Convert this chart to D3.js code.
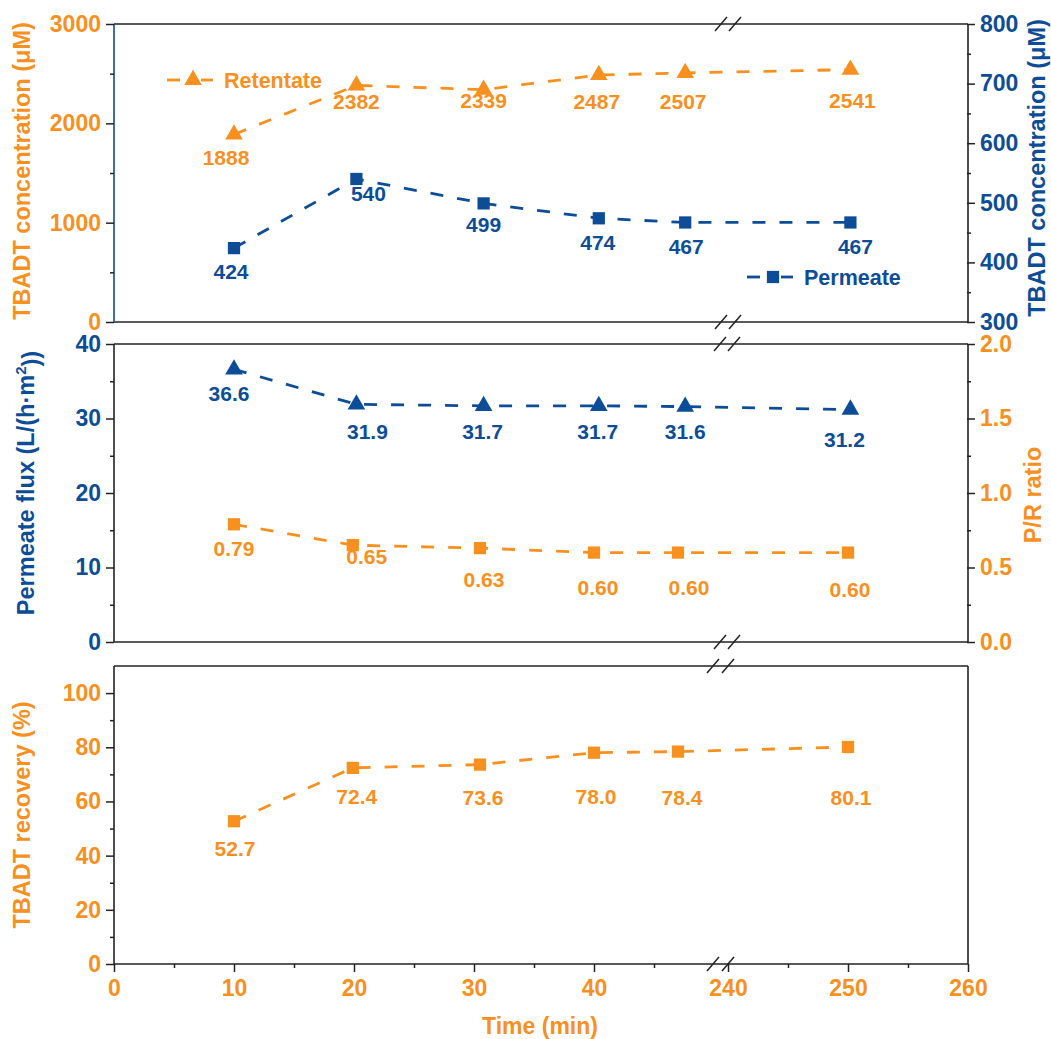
<!DOCTYPE html>
<html><head><meta charset="utf-8">
<script src="https://cdn.jsdelivr.net/npm/d3@7"></script>
<style>
body{margin:0;background:#fff}
svg{display:block}
text{font-family:"Liberation Sans",Arial,Helvetica,sans-serif;font-weight:bold}
</style>
</head><body>
<svg id="c" width="1051" height="1039"></svg>
<script>
// ---------------- data ----------------
const timeA = [10, 20.2, 30.8, 40.4, 47.6, 250.2];   // top & flux markers
const timeB = [10, 19.9, 30.5, 40, 47, 250];         // P/R & recovery markers
const retentate = [1888, 2382, 2339, 2487, 2507, 2541];
const permeate  = [424, 540, 499, 474, 467, 467];
const flux      = [36.6, 31.9, 31.7, 31.7, 31.6, 31.2];
const prRatio   = [0.79, 0.65, 0.63, 0.60, 0.60, 0.60];
const recovery  = [52.7, 72.4, 73.6, 78.0, 78.4, 80.1];
const xTicks = [0, 10, 20, 30, 40, 240, 250, 260];
const xMinor = [5, 15, 25, 35, 45, 245, 255];
const retFmt = d3.format("d"), perFmt = d3.format("d"), fluxFmt = d3.format(".1f"), prFmt = d3.format(".2f"), recFmt = d3.format(".1f");

// label nudges (px, relative to marker)
const retNudge  = [[-8,23],[0,16],[0,11],[-2,26],[-2,28],[2,31]];
const perNudge  = [[-3,23],[12,14],[0,21],[-1,24],[1,24],[5,24]];
const fluxNudge = [[-5,24],[11,27],[-1,26],[-1,26],[0,25],[-6,30]];
const prNudge   = [[0,24],[14,11],[4,31],[4,35],[11,35],[2,37]];
const recNudge  = [[1,27],[4,29],[3,33],[2,44],[4,46],[3,50]];

const ORANGE = "#F7901E", BLUE = "#0D4D97", BLACK = "#222";
const svg = d3.select("#c");

const X0 = 114, X1 = 968;
const x = d3.scaleLinear().domain([0, 50, 239, 260]).range([114, 714, 716, 968]);

const panels = [
  {top: 24, bot: 322},
  {top: 344, bot: 642},
  {top: 666, bot: 964}
];

const TRI = 135, SQ = 150;
function sym(type, size){ return d3.symbol().type(type).size(size)(); }

function yAxis(g, scale, side, major, minor, fmt, color, xpos){
  const ax = side === "left" ? d3.axisLeft(scale) : d3.axisRight(scale);
  const gm = g.append("g").attr("transform", `translate(${xpos},0)`)
    .call(ax.tickValues(major).tickSize(8).tickPadding(5).tickFormat(fmt));
  gm.select(".domain").remove();
  gm.selectAll("line").attr("stroke", BLACK).attr("stroke-width", 1.5);
  gm.selectAll("text").attr("fill", color).style("font-size", "23px").attr("font-family", null);
  const ax2 = side === "left" ? d3.axisLeft(scale) : d3.axisRight(scale);
  const gn = g.append("g").attr("transform", `translate(${xpos},0)`)
    .call(ax2.tickValues(minor).tickSize(4).tickFormat(""));
  gn.select(".domain").remove();
  gn.selectAll("line").attr("stroke", BLACK).attr("stroke-width", 1.5);
}

function frame(p, leftColor, breakXs){
  const g = svg.append("g");
  g.append("line").attr("x1", X0).attr("x2", X1).attr("y1", p.top).attr("y2", p.top).attr("stroke", BLACK).attr("stroke-width", 1.6);
  g.append("line").attr("x1", X0).attr("x2", X1).attr("y1", p.bot).attr("y2", p.bot).attr("stroke", BLACK).attr("stroke-width", 1.6);
  g.append("line").attr("x1", X0).attr("x2", X0).attr("y1", p.top).attr("y2", p.bot).attr("stroke", leftColor).attr("stroke-width", 1.6);
  g.append("line").attr("x1", X1).attr("x2", X1).attr("y1", p.top).attr("y2", p.bot).attr("stroke", BLACK).attr("stroke-width", 1.6);
  [p.top, p.bot].forEach(yy => {
    breakXs.forEach(cx => {
      g.append("line").attr("x1", cx - 6).attr("y1", yy + 7).attr("x2", cx + 6).attr("y2", yy - 7)
        .attr("stroke", BLACK).attr("stroke-width", 1.5);
    });
  });
}

function series(times, vals, y, color, shape, size, nudge, fmt){
  const pts = times.map((t, i) => [x(t), y(vals[i])]);
  svg.append("path").attr("d", d3.line()(pts)).attr("fill", "none")
    .attr("stroke", color).attr("stroke-width", 2.8).attr("stroke-dasharray", "13,14");
  svg.append("g").selectAll("path").data(pts).join("path")
    .attr("d", sym(shape, size)).attr("fill", color)
    .attr("transform", d => `translate(${d[0]},${d[1]})`);
  svg.append("g").selectAll("text").data(pts).join("text")
    .attr("x", (d, i) => d[0] + nudge[i][0]).attr("y", (d, i) => d[1] + nudge[i][1])
    .attr("dy", "0.36em").attr("text-anchor", "middle")
    .style("font-size", "21px").attr("fill", color)
    .text((d, i) => fmt(vals[i]));
}

function vTitle(xc, yc, color, build){
  const t = svg.append("text").attr("transform", `translate(${xc},${yc}) rotate(-90)`)
    .attr("text-anchor", "middle").attr("dy", "0.36em").style("font-size", "23.5px").attr("fill", color);
  build(t);
}

// ---------- Panel 1 ----------
const p1 = panels[0];
const y1L = d3.scaleLinear().domain([0, 3000]).range([p1.bot, p1.top]);
const y1R = d3.scaleLinear().domain([300, 800]).range([p1.bot, p1.top]);
frame(p1, BLUE, [721, 735]);
yAxis(svg.append("g"), y1L, "left", [0, 1000, 2000, 3000], [500, 1500, 2500], d3.format("d"), ORANGE, X0);
yAxis(svg.append("g"), y1R, "right", [300, 400, 500, 600, 700, 800], [350, 450, 550, 650, 750], d3.format("d"), BLUE, X1 - 1);
series(timeA, retentate, y1L, ORANGE, d3.symbolTriangle, TRI, retNudge, retFmt);
series(timeA, permeate, y1R, BLUE, d3.symbolSquare, SQ, perNudge, perFmt);

// legend
function legendItem(cx, cy, color, shape, size, label){
  svg.append("line").attr("x1", cx - 26).attr("x2", cx - 13).attr("y1", cy).attr("y2", cy).attr("stroke", color).attr("stroke-width", 2.8);
  svg.append("line").attr("x1", cx + 8).attr("x2", cx + 20).attr("y1", cy).attr("y2", cy).attr("stroke", color).attr("stroke-width", 2.8);
  svg.append("path").attr("d", sym(shape, size)).attr("fill", color).attr("transform", `translate(${cx},${cy})`);
  svg.append("text").attr("x", cx + 31).attr("y", cy).attr("dy", "0.36em").style("font-size", "21.5px").attr("fill", color).text(label);
}
legendItem(193, 80, ORANGE, d3.symbolTriangle, TRI, "Retentate");
legendItem(773, 277, BLUE, d3.symbolSquare, SQ, "Permeate");

vTitle(22, 171, ORANGE, t => t.text("TBADT concentration (μM)"));
vTitle(1037, 168, BLUE, t => t.text("TBADT concentration (μM)"));

// ---------- Panel 2 ----------
const p2 = panels[1];
const y2L = d3.scaleLinear().domain([0, 40]).range([p2.bot, p2.top]);
const y2R = d3.scaleLinear().domain([0, 2]).range([p2.bot, p2.top]);
frame(p2, BLACK, [720, 734]);
yAxis(svg.append("g"), y2L, "left", [0, 10, 20, 30, 40], [5, 15, 25, 35], d3.format("d"), BLUE, X0);
yAxis(svg.append("g"), y2R, "right", [0, 0.5, 1, 1.5, 2], [0.25, 0.75, 1.25, 1.75], d3.format(".1f"), ORANGE, X1 - 1);
series(timeA, flux, y2L, BLUE, d3.symbolTriangle, TRI, fluxNudge, fluxFmt);
series(timeB, prRatio, y2R, ORANGE, d3.symbolSquare, SQ, prNudge, prFmt);

vTitle(26, 483, BLUE, t => {
  t.append("tspan").text("Permeate flux (L/(h·m");
  t.append("tspan").attr("dy", "-0.55em").style("font-size", "15px").text("2");
  t.append("tspan").attr("dy", "0.55em").text("))");
});
vTitle(1033, 495, ORANGE, t => t.text("P/R ratio"));

// ---------- Panel 3 ----------
const p3 = panels[2];
const y3 = d3.scaleLinear().domain([0, 110]).range([p3.bot, p3.top]);
frame(p3, BLACK, [713, 728]);
yAxis(svg.append("g"), y3, "left", [0, 20, 40, 60, 80, 100], [10, 30, 50, 70, 90], d3.format("d"), ORANGE, X0);
series(timeB, recovery, y3, ORANGE, d3.symbolSquare, SQ, recNudge, recFmt);
vTitle(22, 815, ORANGE, t => t.text("TBADT recovery (%)"));

// x axis
const gx = svg.append("g").attr("transform", `translate(0,${p3.bot})`)
  .call(d3.axisBottom(x).tickValues(xTicks).tickSize(8).tickPadding(8).tickFormat(d3.format("d")));
gx.select(".domain").remove();
gx.selectAll("line").attr("stroke", BLACK).attr("stroke-width", 1.5);
gx.selectAll("text").attr("fill", ORANGE).style("font-size", "23px").attr("font-family", null);
const gx2 = svg.append("g").attr("transform", `translate(0,${p3.bot})`)
  .call(d3.axisBottom(x).tickValues(xMinor).tickSize(4).tickFormat(""));
gx2.select(".domain").remove();
gx2.selectAll("line").attr("stroke", BLACK).attr("stroke-width", 1.5);

svg.append("text").attr("x", 540).attr("y", 1026).attr("dy", "0.36em").attr("text-anchor", "middle")
  .style("font-size", "23px").attr("fill", ORANGE).text("Time (min)");
</script>
</body></html>
